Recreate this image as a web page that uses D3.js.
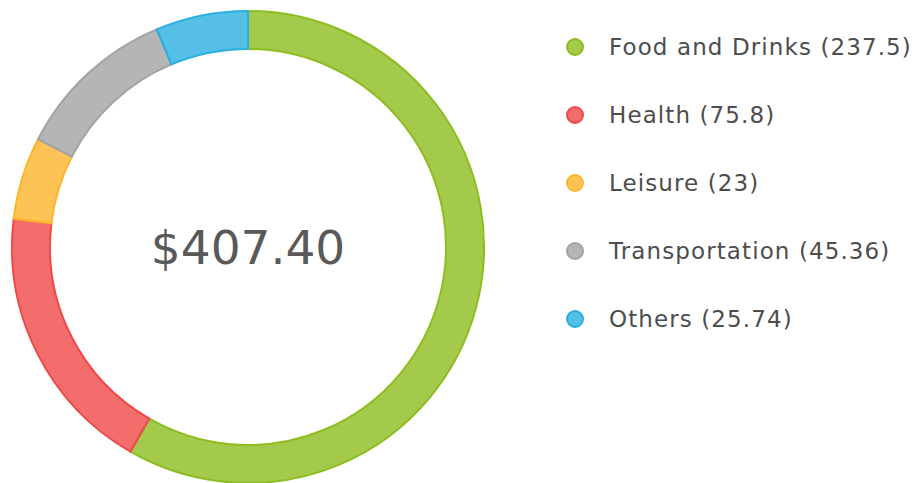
<!DOCTYPE html>
<html>
<head>
<meta charset="utf-8">
<script src="https://cdn.jsdelivr.net/npm/d3@7"></script>
<style>
  body { margin: 0; background: #fff; }
  text { font-family: "DejaVu Sans", sans-serif; }
</style>
</head>
<body>
<div id="chart"></div>
<script>
// Chart data
const categories = ["Food and Drinks", "Health", "Leisure", "Transportation", "Others"]
const values = [237.5, 75.8, 23, 45.36, 25.74]
const colors = ["#8dbd1f", "#f04848", "#fdb52b", "#a3a3a3", "#2aafdf"]

const width = 917,
    height = 483

const cx = 248, cy = 247
const outerR = 236, innerR = 198

const svg = d3.select("#chart")
    .append("svg")
    .attr("width", width)
    .attr("height", height)

const pie = d3.pie().sort(null).value(function (d) { return d })
const arc = d3.arc().innerRadius(innerR).outerRadius(outerR)

const slices = pie(values)

const g = svg.append("g")
    .attr("transform", `translate(${cx},${cy})`)

g.selectAll("path")
    .data(slices)
    .join("path")
    .attr("d", arc)
    .attr("fill", function (d, i) { return colors[i] })
    .attr("fill-opacity", 0.8)
    .attr("stroke", function (d, i) { return colors[i] })
    .attr("stroke-width", 2)

// total in the middle
const total = d3.sum(values)
g.append("text")
    .attr("text-anchor", "middle")
    .attr("y", 17)
    .style("font-size", "47px")
    .style("fill", "#595959")
    .text("$" + total.toFixed(2))

// legend
const legendY = d3.scalePoint()
    .domain(categories)
    .range([47, 319])

const legend = svg.selectAll(".legend")
    .data(categories)
    .join("g")
    .attr("class", "legend")
    .attr("transform", function (d) { return `translate(575, ${legendY(d)})` })

legend.append("circle")
    .attr("r", 8)
    .attr("fill", function (d, i) { return colors[i] })
    .attr("fill-opacity", 0.8)
    .attr("stroke", function (d, i) { return colors[i] })
    .attr("stroke-width", 2)

legend.append("text")
    .attr("x", 34)
    .attr("y", 8)
    .style("font-size", "23px")
    .style("letter-spacing", "1.1px")
    .style("fill", "#4d4d4d")
    .text(function (d, i) { return d + " (" + values[i] + ")" })
</script>
</body>
</html>
